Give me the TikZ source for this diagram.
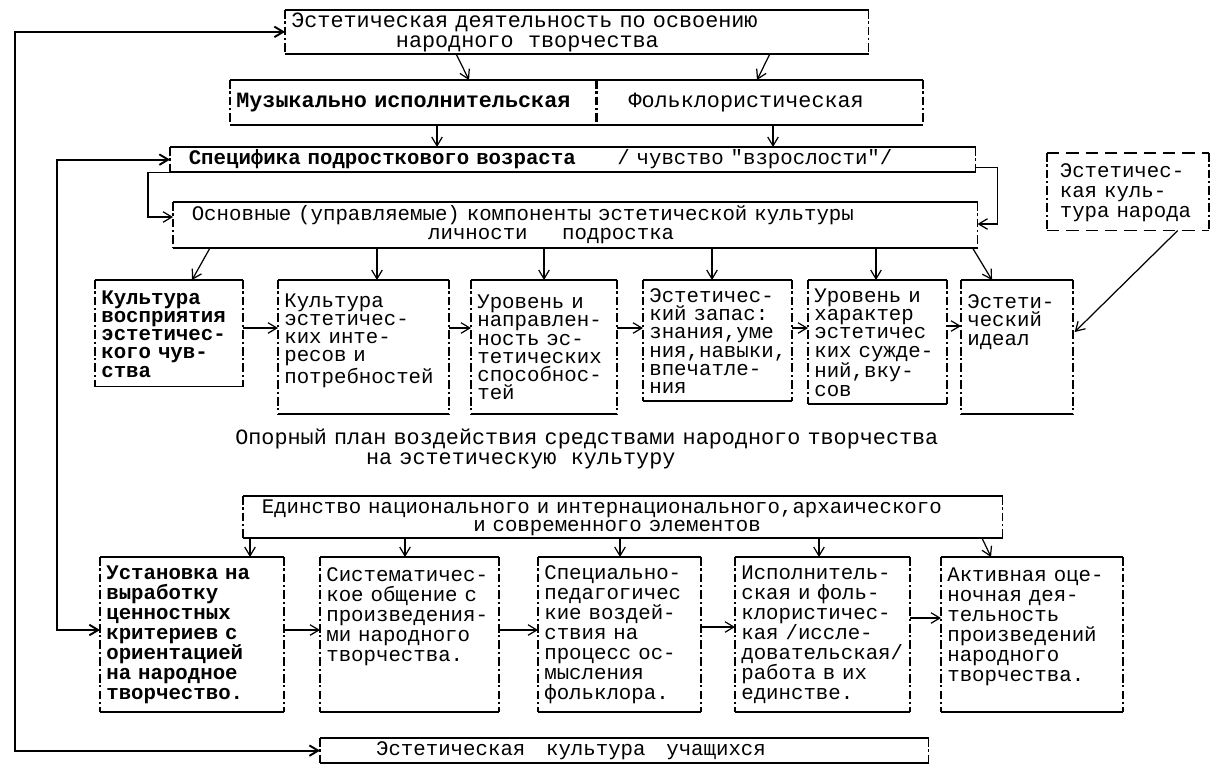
\documentclass[tikz,border=0pt]{standalone}
\usepackage{fontspec}
\setmonofont{Liberation Mono}
\renewcommand{\familydefault}{\ttdefault}
\usetikzlibrary{calc,arrows.meta,positioning}
\hyphenpenalty=10000
\exhyphenpenalty=10000
\newcommand{\indt}[1]{\hspace*{#1\dimexpr0.6em\relax}}

\tikzset{
	pica/.style={font=\fontsize{12.4}{11.4}\selectfont},
	picabf/.style={font=\fontsize{12.4}{11.4}\selectfont\bfseries},
	elite/.style={font=\fontsize{11.8}{10.4}\selectfont},
	elitebf/.style={font=\fontsize{11.8}{10.4}\selectfont\bfseries},
	elitew/.style={font=\fontsize{11.8}{11.4}\selectfont},
	elitewbf/.style={font=\fontsize{11.8}{11.4}\selectfont\bfseries},
	excl/.style={line width=1pt, dash pattern=on 5pt off 1.5pt on 1.2pt off 1.8pt},
	tw/.style={anchor=north west, align=left, inner xsep=0.12cm, inner ysep=#1, text height=8.5pt,
		append after command={
			(\tikzlastnode.north west) edge[line width=1.1pt] (\tikzlastnode.north east)
			(\tikzlastnode.south west) edge[line width=1.1pt] (\tikzlastnode.south east)
			(\tikzlastnode.north west) edge[excl] (\tikzlastnode.south west)
			(\tikzlastnode.north east) edge[excl] (\tikzlastnode.south east)}},
	tw/.default=5pt,
	twd/.style={anchor=north west, align=left, inner xsep=0.25cm, inner ysep=5pt, text height=8.5pt,
		append after command={
			(\tikzlastnode.north west) edge[line width=1pt, dash pattern=on 7pt off 4pt] (\tikzlastnode.north east)
			(\tikzlastnode.south west) edge[line width=1pt, dash pattern=on 7pt off 4pt] (\tikzlastnode.south east)
			(\tikzlastnode.north west) edge[excl] (\tikzlastnode.south west)
			(\tikzlastnode.north east) edge[excl] (\tikzlastnode.south east)}},
	con/.style={->, line width=0.7pt},
	retline/.style={<->, line width=1.1pt},
}

\begin{document}
\begin{tikzpicture}[x=0.02cm, y=-0.02cm, >={Straight Barb[length=5pt,width=6pt]}]
	\useasboundingbox (0,0) rectangle (1210,765);

	% Upper part
	\node[tw=1pt, pica, text width=11.42cm] (act) at (285,10) {Эстетическая деятельность по освоению\\\indt{8}народного~~творчества};
	\node[tw=7pt, picabf, text width=7.08cm] (mus) at (230,80) {Музыкально исполнительская};
	\node[tw=7pt, pica, text width=6.28cm] (folk) at (596,80) {\indt{2}Фольклористическая};
	\node[tw=1.5pt, elite, text width=15.86cm] (spec) at (170,147) {\indt{1}\textbf{Специфика подросткового возраста}~~~~~~/ чувство "взрослости"/};
	\node[tw=2pt, font=\fontsize{11.8}{10.8}\selectfont, text width=15.84cm] (comp) at (173,202) {\indt{1}Основные (управляемые) компоненты эстетической культуры\\\indt{20}личности~~~~~подростка};
	\node[twd, elitew, text width=2.72cm] (cult) at (1047,153) {Эстетичес-\\кая куль-\\тура народа};

	% Components
	\node[tw, elitebf, text width=2.70cm] (k1) at (95,280) {Культура\\восприятия\\эстетичес-\\кого чув-\\ства};
	\node[tw, elite, text width=3.16cm, minimum height=2.66cm] (k2) at (278,280) {Культура\\эстетичес-\\ких инте-\\ресов и\\потребностей\\\mbox{}};
	\node[tw, elite, text width=2.66cm, minimum height=2.66cm] (k3) at (471,280) {Уровень и\\направлен-\\ность эс-\\тетических\\способнос-\\тей};
	\node[tw=4pt, elite, text width=2.72cm] (k4) at (643,280) {Эстетичес-\\кий запас:\\знания,уме\\ния,навыки,\\впечатле-\\ния};
	\node[tw=4pt, elite, text width=2.52cm] (k5) at (808,280) {Уровень и\\характер\\эстетичес\\ких сужде-\\ний,вку-\\сов};
	\node[tw, elite, text width=1.98cm, minimum height=2.66cm] (k6) at (961,280) {Эстети-\\ческий\\идеал\\\mbox{}\\\mbox{}\\\mbox{}};

	% Caption
	\node[pica, anchor=north west, align=left, inner sep=0pt, text height=8.5pt, text width=16cm] (plan) at (235,429) {Опорный план воздействия средствами народного творчества\\\indt{10}на эстетическую~~культуру};

	% Lower part
	\node[tw=1pt, font=\fontsize{11.8}{10.6}\selectfont, text width=14.94cm] (unity) at (243,496) {\indt{1}Единство национального и интернационального,архаического\\\indt{18}и современного элементов};
	\node[tw=4pt, elitewbf, text width=3.42cm, minimum height=3.08cm] (m1) at (100,557) {Установка на\\выработку\\ценностных\\критериев с\\ориентацией\\на народное\\творчество.};
	\node[tw=4pt, elitew, text width=3.32cm, minimum height=3.08cm] (m2) at (320,557) {Систематичес-\\кое общение с\\произведения-\\ми народного\\творчества.\\\mbox{}\\\mbox{}};
	\node[tw=4pt, elitew, text width=3.00cm, minimum height=3.08cm] (m3) at (538,557) {Специально-\\педагогичес\\кие воздей-\\ствия на\\процесс ос-\\мысления\\фольклора.};
	\node[tw=4pt, elitew, text width=3.24cm, minimum height=3.08cm] (m4) at (735,557) {Исполнитель-\\ская и фоль-\\клористичес-\\кая /иссле-\\довательская/\\работа в их\\единстве.};
	\node[tw=4pt, elitew, text width=3.38cm, minimum height=3.08cm] (m5) at (941,557) {Активная оце-\\ночная дея-\\тельность\\произведений\\народного\\творчества.\\\mbox{}};
	\node[tw=1.5pt, elite, text width=11.92cm] (res) at (320,738) {\indt{4}Эстетическая~~~культура~~~учащихся};

	% Feedback lines
	\draw[retline] (act.west) -- ++(-270,0) |- (res.west);
	\draw[retline] (spec.west) -- ++(-113,0) |- ($(m1.north west)+(0,73)$);
	\draw[con] (spec.south west) -- ++(-22,0) |- ($(comp.north west)+(0,15)$);
	\draw[con] ($(spec.south east)+(0,-5)$) -- ++(22,0) |- ($(comp.north east)+(0,22)$);

	% Upper arrows
	\draw[con] ($(act.south west)+(171,0)$) -- ($(mus.north west)+(239,0)$);
	\draw[con] ($(act.south west)+(485,0)$) -- ($(folk.north west)+(161,0)$);
	\draw[con] ($(mus.south west)+(207,0)$) -- ($(spec.north west)+(267,0)$);
	\draw[con] ($(folk.south west)+(177,0)$) -- ($(spec.north west)+(603,0)$);

	% Components arrows
	\draw[con] ($(comp.south west)+(37,0)$) -- ($(k1.north west)+(97,0)$);
	\draw[con] ($(comp.south west)+(204,0)$) -- ($(k2.north west)+(99,0)$);
	\draw[con] ($(comp.south west)+(371,0)$) -- ($(k3.north west)+(73,0)$);
	\draw[con] ($(comp.south west)+(539,0)$) -- ($(k4.north west)+(69,0)$);
	\draw[con] ($(comp.south west)+(703,0)$) -- ($(k5.north west)+(68,0)$);
	\draw[con] ($(comp.south east)+(-5,0)$) -- ($(k6.north west)+(31,0)$);
	\draw[con] ($(k1.north east)+(0,48)$) -- ($(k2.north west)+(0,48)$);
	\draw[con] ($(k2.north east)+(0,48)$) -- ($(k3.north west)+(0,48)$);
	\draw[con] ($(k3.north east)+(0,48)$) -- ($(k4.north west)+(0,48)$);
	\draw[con] ($(k4.north east)+(0,48)$) -- ($(k5.north west)+(0,48)$);
	\draw[con] ($(k5.north east)+(0,46)$) -- ($(k6.north west)+(0,46)$);
	\draw[con] ($(cult.south east)+(-31,0)$) -- ($(k6.north east)+(2,52)$);

	% Lower arrows
	\draw[con] ($(unity.south west)+(7,0)$) -- ($(m1.north west)+(150,0)$);
	\draw[con] ($(unity.south west)+(162,0)$) -- ($(m2.north west)+(85,0)$);
	\draw[con] ($(unity.south west)+(377,0)$) -- ($(m3.north west)+(82,0)$);
	\draw[con] ($(unity.south west)+(576,0)$) -- ($(m4.north west)+(84,0)$);
	\draw[con] ($(unity.south west)+(739,0)$) -- ($(m5.north west)+(50,0)$);
	\draw[con] ($(m1.north east)+(0,73)$) -- ($(m2.north west)+(0,73)$);
	\draw[con] ($(m2.north east)+(0,73)$) -- ($(m3.north west)+(0,73)$);
	\draw[con] ($(m3.north east)+(0,70)$) -- ($(m4.north west)+(0,70)$);
	\draw[con] ($(m4.north east)+(0,61)$) -- ($(m5.north west)+(0,61)$);
\end{tikzpicture}
\end{document}
